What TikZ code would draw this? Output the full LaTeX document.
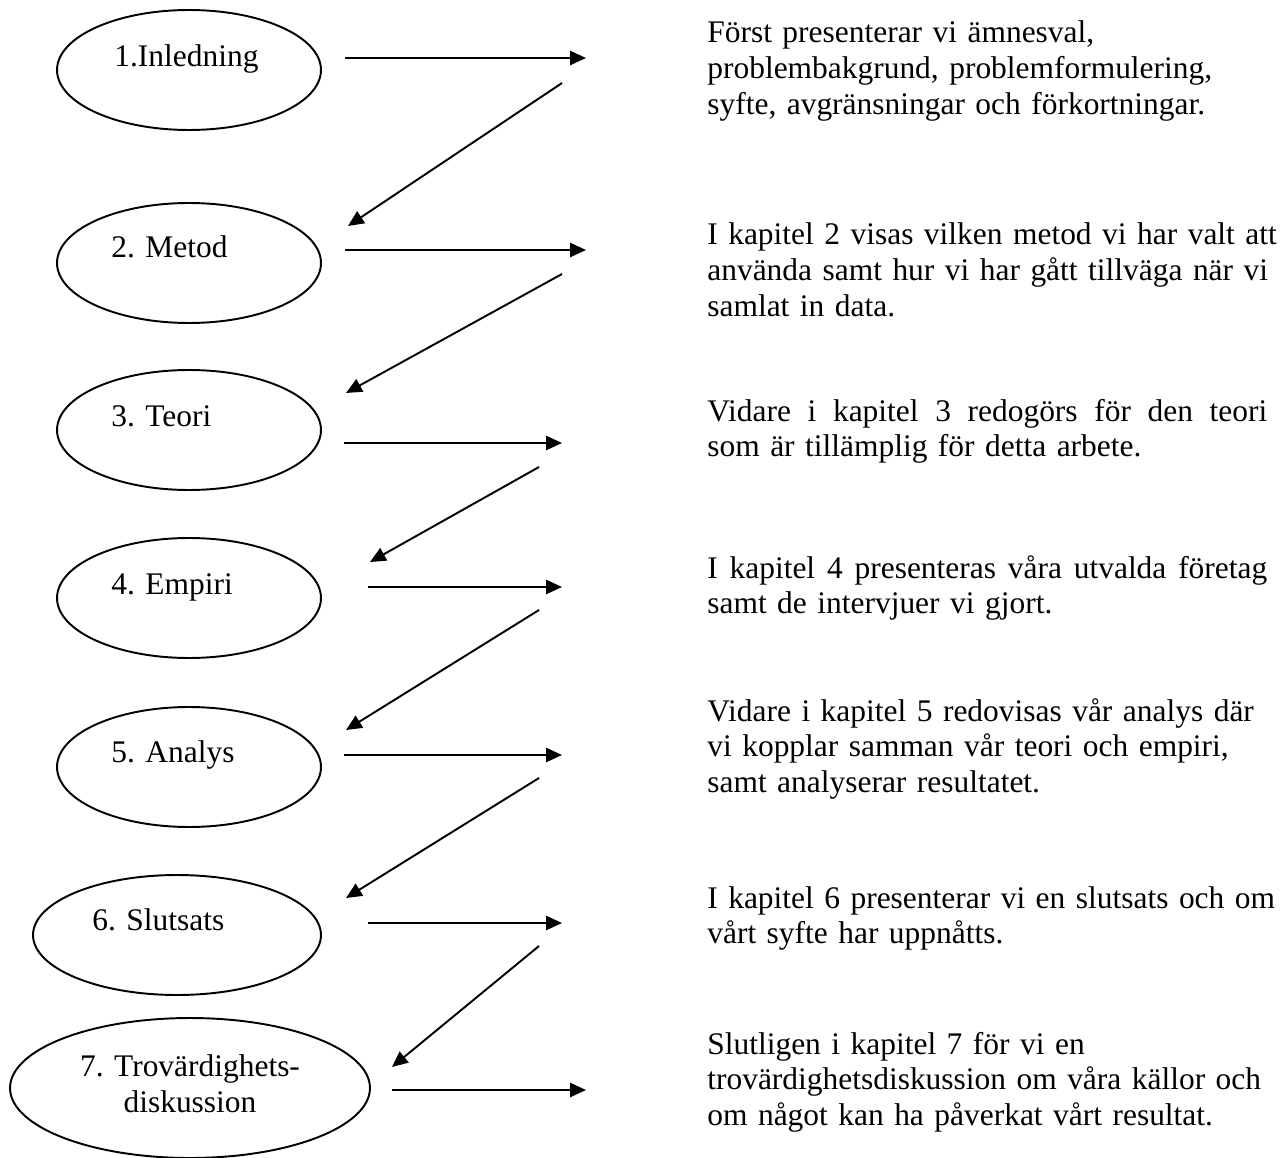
\documentclass[tikz,border=0pt]{standalone}
\usepackage{fontspec}
\setmainfont{Liberation Serif}
\usetikzlibrary{shapes.geometric,arrows.meta}

\newcommand{\fullrad}[1]{\hbox to 11.2cm{\spaceskip=.25em plus 1fil\relax #1}}

\tikzset{
  kap/.style={ellipse,draw,line width=1.1pt,inner sep=0pt},
  rubrik/.style={anchor=base west,inner sep=0pt},
  besk/.style={anchor=base west,inner sep=0pt,align=left,text width=11.4cm},
  pil/.style={line width=1.1pt,-{Triangle[length=9pt,width=8pt]}}
}

\begin{document}
\begin{tikzpicture}[x=0.02cm,y=-0.02cm]
            \fontsize{17.9}{20.4}\selectfont
            \useasboundingbox (0,0) rectangle (1280,1158);

            % kapitel
            \node[kap,minimum width=5.28cm,minimum height=2.4cm] (e1) at (189,70){};
            \node[kap,minimum width=5.28cm,minimum height=2.4cm] (e2) at (189,263){};
            \node[kap,minimum width=5.28cm,minimum height=2.4cm] (e3) at (189,430){};
            \node[kap,minimum width=5.28cm,minimum height=2.4cm] (e4) at (189,598){};
            \node[kap,minimum width=5.28cm,minimum height=2.4cm] (e5) at (189,767){};
            \node[kap,minimum width=5.76cm,minimum height=2.4cm] (e6) at (177,935){};
            \node[kap,minimum width=7.2cm,minimum height=2.8cm] (e7) at (190,1088){};

            \node[rubrik] (l1) at (114,67){1.Inledning};
            \node[rubrik] (l2) at (111,258){2. Metod};
            \node[rubrik] (l3) at (111,426){3. Teori};
            \node[rubrik] (l4) at (111,594){4. Empiri};
            \node[rubrik] (l5) at (111,762){5. Analys};
            \node[rubrik] (l6) at (92,930){6. Slutsats};
            \node[anchor=base,inner sep=0pt,align=center] (l7) at (190,1112){7. Trovärdighets-\\diskussion};

            % beskrivningar
            \node[besk] (t1) at (707,43){Först presenterar vi ämnesval,\\
              problembakgrund, problemformulering,\\
              syfte, avgränsningar och förkortningar.};
            \node[besk] (t2) at (707,245){I kapitel 2 visas vilken metod vi har valt att\\
              använda samt hur vi har gått tillväga när vi\\
              samlat in data.};
            \node[besk] (t3) at (707,421){\fullrad{Vidare i kapitel 3 redogörs för den teori}\\
              som är tillämplig för detta arbete.};
            \node[besk] (t4) at (707,578){\fullrad{I kapitel 4 presenteras våra utvalda företag}\\
              samt de intervjuer vi gjort.};
            \node[besk] (t5) at (707,721){Vidare i kapitel 5 redovisas vår analys där\\
              vi kopplar samman vår teori och empiri,\\
              samt analyserar resultatet.};
            \node[besk] (t6) at (707,908){I kapitel 6 presenterar vi en slutsats och om\\
              vårt syfte har uppnåtts.};
            \node[besk] (t7) at (707,1054){Slutligen i kapitel 7 för vi en\\
              trovärdighetsdiskussion om våra källor och\\
              om något kan ha påverkat vårt resultat.};

            % pilarnas ändpunkter
            \coordinate (h1a) at (345,58);   \coordinate (h1b) at (586,58);
            \coordinate (h2a) at (345,250);  \coordinate (h2b) at (586,250);
            \coordinate (h3a) at (344,443);  \coordinate (h3b) at (562,443);
            \coordinate (h4a) at (368,587);  \coordinate (h4b) at (562,587);
            \coordinate (h5a) at (344,755);  \coordinate (h5b) at (562,755);
            \coordinate (h6a) at (368,923);  \coordinate (h6b) at (562,923);
            \coordinate (h7a) at (392,1090); \coordinate (h7b) at (586,1090);

            \coordinate (d1a) at (562,83);   \coordinate (d1b) at (348,226);
            \coordinate (d2a) at (562,274);  \coordinate (d2b) at (346,393);
            \coordinate (d3a) at (539,467);  \coordinate (d3b) at (370,562);
            \coordinate (d4a) at (539,610);  \coordinate (d4b) at (346,730);
            \coordinate (d5a) at (539,778);  \coordinate (d5b) at (346,898);
            \coordinate (d6a) at (539,946);  \coordinate (d6b) at (392,1067);

            \foreach \i in {1,...,7}
              \draw[pil] (h\i a) -- (h\i b);
            \foreach \i in {1,...,6}
              \draw[pil] (d\i a) -- (d\i b);
\end{tikzpicture}
\end{document}
